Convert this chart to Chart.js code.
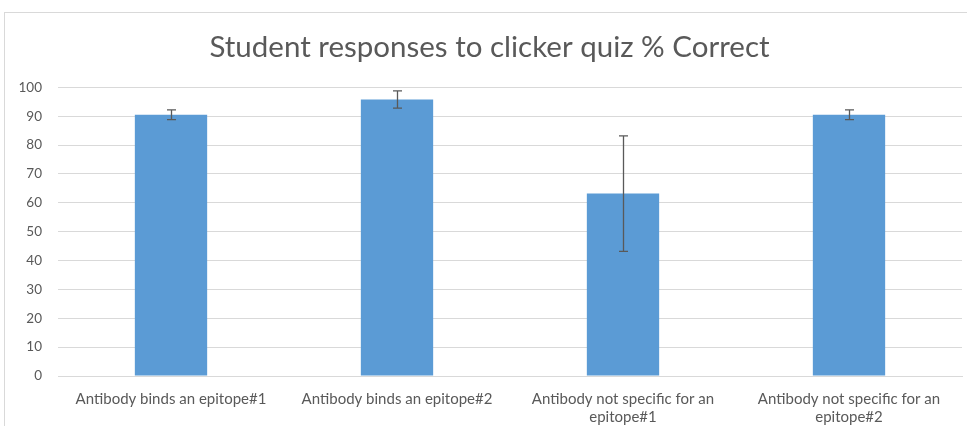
<!DOCTYPE html>
<html>
<head>
<meta charset="utf-8">
<script src="https://cdn.jsdelivr.net/npm/chart.js@4/dist/chart.umd.min.js"></script>
<style>
  html, body { margin: 0; padding: 0; background: #fff; }
  #box {
    position: absolute; left: 4px; top: 12px;
    width: 963px; height: 414px;
    border-left: 1px solid #d9d9d9; border-top: 1px solid #d9d9d9;
  }
  #chart { display: block; }
</style>
</head>
<body>
<div id="box"><canvas id="chart" width="962" height="413"></canvas></div>
<script>
const categorias = [
  'Antibody binds an epitope#1',
  'Antibody binds an epitope#2',
  ['Antibody not specific for an', 'epitope#1'],
  ['Antibody not specific for an', 'epitope#2']
];
const porcentajes = [90.5, 95.8, 63.2, 90.5];
const errores = [1.7, 3.0, 20.0, 1.7];
const ticksY = [0, 10, 20, 30, 40, 50, 60, 70, 80, 90, 100];

const gris = '#595959';

// barras de error dibujadas con la escala y del grafico
const barrasError = {
  id: 'barrasError',
  afterDatasetsDraw(chart) {
    const { ctx, scales: { y } } = chart;
    const meta = chart.getDatasetMeta(0);
    ctx.save();
    ctx.strokeStyle = gris;
    ctx.lineWidth = 1.3;
    meta.data.forEach((bar, i) => {
      const x = Math.round(bar.x) + 0.5;
      const arriba = y.getPixelForValue(porcentajes[i] + errores[i]);
      const abajo = y.getPixelForValue(porcentajes[i] - errores[i]);
      ctx.beginPath();
      ctx.moveTo(x, arriba); ctx.lineTo(x, abajo);
      ctx.moveTo(x - 4.5, arriba); ctx.lineTo(x + 4.5, arriba);
      ctx.moveTo(x - 4.5, abajo); ctx.lineTo(x + 4.5, abajo);
      ctx.stroke();
    });
    ctx.restore();
  }
};

const ctx = document.getElementById('chart').getContext('2d');
new Chart(ctx, {
  type: 'bar',
  data: {
    labels: categorias,
    datasets: [{
      data: porcentajes,
      backgroundColor: '#5b9bd5',
      barPercentage: 1,
      categoryPercentage: 0.32
    }]
  },
  options: {
    responsive: false,
    animation: false,
    layout: { padding: { left: 12, right: 5, top: 0, bottom: 0 } },
    plugins: {
      legend: { display: false },
      tooltip: { enabled: false },
      title: {
        display: true,
        text: 'Student responses to clicker quiz % Correct',
        color: gris,
        font: { family: 'Lato', size: 29.5, weight: 'normal' },
        padding: { top: 17, bottom: 22 }
      }
    },
    scales: {
      x: {
        grid: { display: false },
        border: { color: '#d9d9d9' },
        ticks: {
          color: gris,
          font: { family: 'Lato', size: 15, lineHeight: 1.2 },
          maxRotation: 0,
          padding: 6
        },
        afterFit(scale) { scale.height = 50; }
      },
      y: {
        min: 0,
        max: 100,
        afterBuildTicks(scale) { scale.ticks = ticksY.map(v => ({ value: v })); },
        grid: { color: '#d9d9d9', drawTicks: false },
        border: { display: false },
        ticks: {
          color: gris,
          font: { family: 'Lato', size: 13.5 },
          padding: 16
        },
        afterFit(scale) { scale.width = 41; }
      }
    }
  },
  plugins: [barrasError]
});
</script>
</body>
</html>
